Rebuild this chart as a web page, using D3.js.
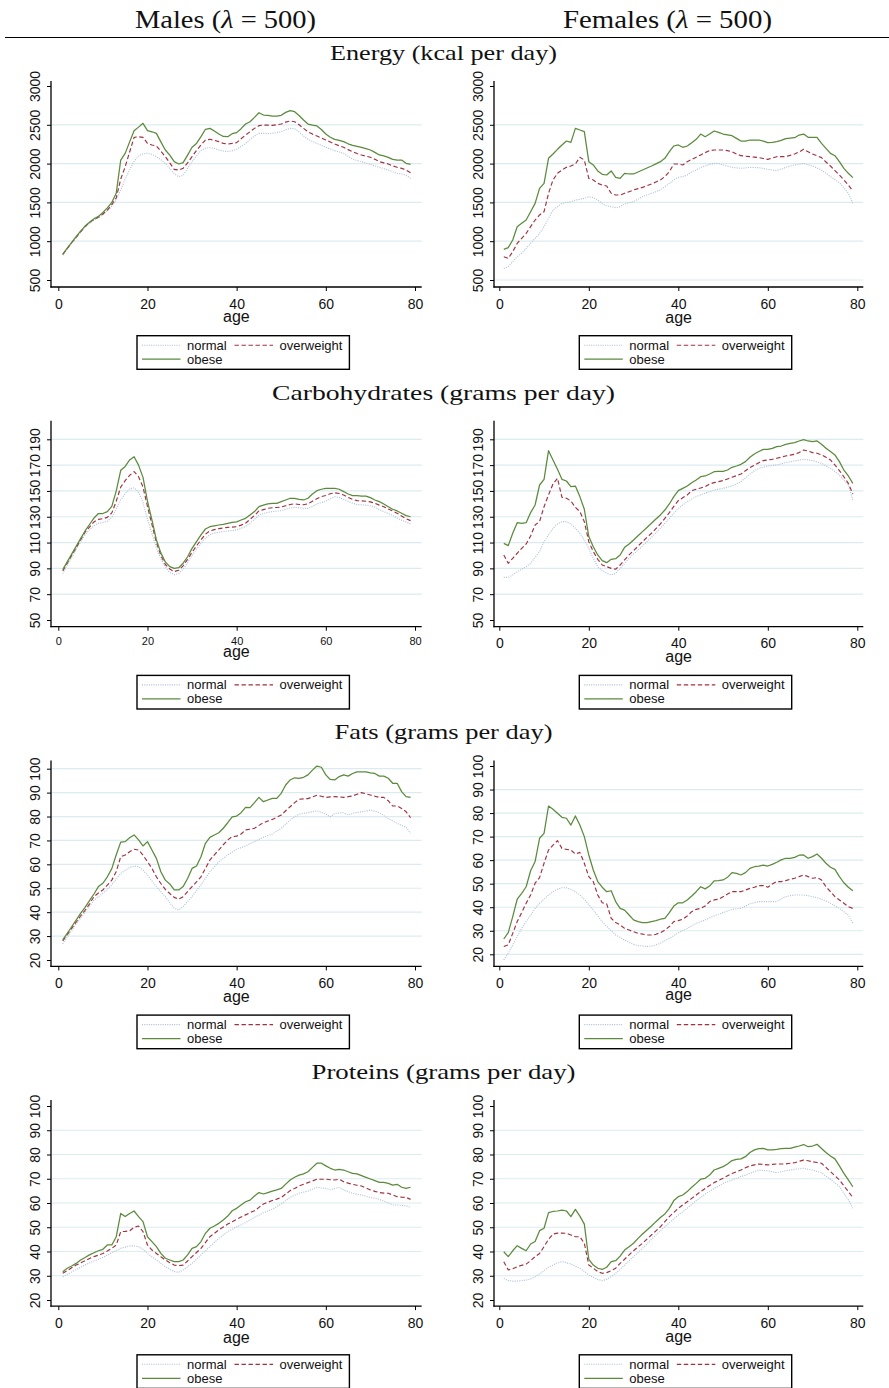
<!DOCTYPE html>
<meta charset="utf-8">
<script src="https://cdn.jsdelivr.net/npm/d3@7"></script>
<style>
body { margin: 0; background: #fff; }
.tick text { font-family: "Liberation Sans", Arial, sans-serif; fill: #111; }
</style>
<body>
<script>

// ---- data ----
var ages = [1,2,3,4,5,6,7,8,9,10,11,12,13,14,15,16,17,18,19,20,21,22,23,24,25,26,27,28,29,30,31,32,33,34,35,36,37,38,39,40,41,42,43,44,45,46,47,48,49,50,51,52,53,54,55,56,57,58,59,60,61,62,63,64,65,66,67,68,69,70,71,72,73,74,75,76,77,78,79];
var ageTicks = [0, 20, 40, 60, 80];
var seriesNames = ["normal", "overweight", "obese"];
var columnTitles = ["Males", "Females"];
var rowTitles = ["Energy (kcal per day)", "Carbohydrates (grams per day)", "Fats (grams per day)", "Proteins (grams per day)"];

var energyTicks = [500, 1000, 1500, 2000, 2500, 3000];
var carbTicks = [50, 70, 90, 110, 130, 150, 170, 190];
var fatTicks = [20, 30, 40, 50, 60, 70, 80, 90, 100];
var protTicks = [20, 30, 40, 50, 60, 70, 80, 90, 100];

var energyMaleNormal = [820,900,975,1045,1115,1180,1230,1270,1300,1340,1390,1450,1530,1660,1800,1920,2030,2100,2125,2135,2120,2090,2050,2003,1940,1870,1832,1850,1940,2025,2100,2170,2197,2205,2195,2175,2162,2155,2165,2184,2220,2261,2310,2356,2390,2390,2385,2390,2400,2411,2435,2454,2450,2410,2356,2313,2285,2261,2235,2210,2190,2167,2150,2132,2095,2059,2040,2025,2005,1990,1970,1952,1935,1917,1895,1875,1866,1853,1810];
var energyMaleOverweight = [830,905,980,1050,1120,1190,1240,1280,1310,1350,1400,1470,1560,1800,1960,2150,2338,2345,2338,2261,2240,2227,2160,2090,2010,1926,1917,1939,2010,2090,2170,2240,2304,2313,2300,2283,2261,2252,2260,2270,2320,2368,2410,2454,2489,2497,2495,2493,2500,2510,2535,2549,2540,2500,2454,2411,2380,2356,2330,2304,2278,2252,2230,2210,2180,2154,2130,2111,2095,2081,2055,2025,2010,1995,1970,1952,1939,1917,1883];
var energyMaleObese = [830,910,985,1060,1130,1195,1245,1290,1320,1370,1430,1500,1620,2046,2132,2280,2424,2470,2519,2424,2410,2390,2280,2175,2110,2025,1995,2012,2110,2210,2260,2347,2442,2454,2420,2381,2350,2347,2385,2399,2450,2510,2540,2596,2656,2626,2620,2613,2612,2622,2660,2682,2669,2620,2562,2510,2495,2485,2440,2381,2340,2313,2300,2283,2255,2235,2222,2210,2192,2175,2145,2111,2100,2081,2055,2046,2046,2003,1990];

var energyFemaleNormal = [650,672,736,800,844,908,972,1037,1101,1187,1295,1402,1445,1488,1497,1510,1531,1540,1552,1574,1561,1531,1488,1454,1445,1432,1445,1479,1497,1510,1542,1574,1595,1617,1638,1660,1703,1746,1789,1823,1832,1853,1896,1917,1952,1969,1990,2003,2003,1982,1967,1952,1945,1939,1945,1952,1950,1948,1937,1926,1917,1909,1930,1952,1967,1982,1993,2003,1986,1969,1943,1917,1875,1832,1793,1754,1690,1617,1488];
var energyFemaleOverweight = [800,779,865,972,1037,1101,1187,1273,1338,1380,1617,1789,1875,1917,1952,1969,1995,2081,2046,1810,1789,1746,1724,1711,1617,1595,1595,1617,1638,1660,1677,1694,1715,1737,1763,1789,1832,1896,1995,1995,1982,2025,2055,2081,2111,2141,2167,2175,2175,2175,2167,2154,2124,2102,2095,2089,2083,2077,2066,2055,2072,2089,2089,2089,2106,2124,2150,2184,2154,2124,2100,2077,2020,1969,1910,1853,1790,1724,1647];
var energyFemaleObese = [895,917,1015,1187,1230,1273,1380,1488,1681,1746,2068,2124,2184,2240,2291,2274,2454,2433,2411,2025,1982,1905,1862,1853,1905,1823,1810,1875,1866,1866,1892,1917,1943,1969,1997,2025,2068,2154,2227,2240,2210,2227,2270,2313,2381,2347,2381,2420,2403,2381,2370,2360,2325,2291,2291,2304,2304,2304,2290,2270,2275,2283,2300,2321,2328,2334,2368,2381,2338,2338,2338,2261,2197,2132,2102,2025,1939,1875,1819];

var carbMaleNormal = [86,92,98.5,104.5,110.5,116,120,123,125,125.5,126.5,129.5,136,143,148,151.5,152.5,149,141,128,117,106,97,91,87,85,86,89.5,94.5,100,105,109.5,113.5,116,117.3,118,118.5,119,119.3,119.8,121,122.5,125,128,131.4,132.5,133.5,134,134.3,134.7,135.8,136.8,137.3,137,136.5,136.5,138,140,141,142,144,145.5,145,143.5,142,140.5,139.5,139.2,139,138.5,137.5,135.5,134,132.5,131,129,127.3,126,124.3];
var carbMaleOverweight = [88,94,100,106,112,118,122,126,128,128.5,129.5,133,142,153,158,162,165,161,153,138,124,110,100,93,89.5,87.5,88.5,92,97,102.5,107.5,112,116.5,119,120,120.8,121.3,121.8,122,122.3,123.5,125,128,131,134.5,135.5,136.5,137,137.2,137.5,138.5,139.5,140,139.5,139.3,140,142,144,145.6,146.5,147.8,148.5,148,146.8,145,143.5,142.5,142.3,142,141.5,140.5,139,137.8,136,134.5,132.7,130.5,128.5,127];
var carbMaleObese = [89,95,101,107,113,119,124,129,132.5,132.5,134,138,150,166,169,174,176.5,170,160.5,142,127.5,112,102,95,91.3,90,90.5,94,99,105.5,110.7,116,120.5,122.3,123,123.6,124.1,124.9,125.7,126,127.5,128.8,131.4,134,137.8,139,139.9,140.4,140.4,141.7,143,144.3,144.3,143.5,143,144.3,147.6,150.2,151.3,152,152,152,151.3,149.5,147.6,146.4,146.4,146,146,144.8,143,141.7,139.9,137.8,135.8,134.5,132.7,130.9,130];

var carbFemaleNormal = [83,83,84.9,87.5,89.3,91.3,93.9,98.6,103,110.7,115.9,121,124.4,126.2,126.2,124.4,121,117.2,112,105.5,97.8,91.3,88.2,86.2,84.9,86.2,90,93.9,97.8,101.1,104.2,107.3,110.7,114.1,117.5,121,125,128.8,132.7,136.5,139.2,141.7,143.7,145.6,147,148.2,149.5,150.7,151.3,152,152.9,153.8,155.5,157.2,160,163.1,165.5,167.5,168.5,169.3,169.7,170.1,171,171.9,172.5,173.2,173.9,174.5,174,173.5,172.5,171.4,169.5,167.5,165,162.3,158.5,154.6,143];
var carbFemaleOverweight = [100.4,93.9,97.8,101.7,105.5,108.9,115.1,123.6,126.2,137.8,146.9,155.4,159.8,145.1,144.3,142.2,137.3,134,126.2,110.7,103,97,92.6,91.3,90,89.3,92.6,96.5,100.4,103.7,107.2,110.7,114,117.2,120.8,124.4,128.8,133.2,138,142.5,144.7,146.9,150.2,151.3,152.3,153.3,155.4,156.4,157.2,158,159.3,160.6,161.8,163.1,165.6,168.1,170,171.9,173.5,174,174.5,175.3,176.2,177.1,177.7,178.4,179.7,181.7,180.9,179.7,179.2,177.9,176,174,170.1,165.7,161,155.9,147.6];
var carbFemaleObese = [109.4,107.6,117.2,125.4,124.9,125.4,133.2,139.1,154.6,159,181.2,174,166.8,159,157.7,153.3,153.8,145.6,135.8,114.6,106.8,100.4,96,94.4,97,97.5,100.4,106.3,108.9,112,115.3,118.5,121.7,124.9,128.2,131.4,135.2,139.9,145.6,150.2,152,153.8,156.4,158.5,161,161.6,163.1,164.9,165.2,165.2,166.2,168.3,169.3,170.6,172.7,176.1,178.6,180.5,182.2,182.2,183,184.3,184.8,186.1,186.9,187.4,188.7,189.7,188.7,188.2,188.7,186.1,183,180.5,177.9,172.7,166.2,161.6,155.9];

var fatMaleNormal = [26.7,29.5,32.3,35,37.5,40,42.5,45,46.5,47.9,49.6,51.4,53.8,56.2,57.5,58.7,59.3,59,57.6,55.5,53.1,50.7,48.6,46.5,44,41.6,40.9,42.3,44.4,46.5,49,51.4,54.2,56.9,59,61.1,62.5,63.9,65.1,66.3,67,67.7,68.6,69.5,70.4,71.3,72,72.7,73.9,75.1,76.8,78.5,79.8,81,81.3,81.6,82,82.4,81.7,81,79.9,81.3,81.5,81.6,80.6,81.3,81.7,82,82.3,82.7,82.2,81.6,80.4,79.2,78.2,77.1,76.3,75.5,73];
var fatMaleOverweight = [28,30.6,33.2,35.8,38.4,40.8,43.4,46.5,48,49.3,51.3,53.4,57,63.2,63.9,65.3,66.3,66,63.9,61.1,58.3,54.8,52,49.5,47.8,46.2,45.4,46.5,48.6,50.7,52.7,54.8,58.3,61.8,64,66,68.2,70.2,71.6,71.8,72.7,74.4,74.7,75.1,76.3,77.4,78.1,78.8,79.7,80.6,82.4,84.1,85.8,87.2,87.4,87.5,88.2,88.9,88.5,88,88.2,88.3,88.2,88,88.3,88.6,89.3,90,89.5,89,88.5,88,88,86.6,84.4,84.4,83.4,82,79.5];
var fatMaleObese = [28.4,31.1,33.9,36.7,39.5,42,44.8,47.6,50.7,52.1,54.8,58.2,64,69.3,69.5,71.1,72.3,70.2,67.7,69.5,66,62.5,56.9,53.4,51.8,49.3,49.3,50.7,54.1,58.3,59.3,63.2,68.8,71.3,72.3,73.2,75.1,77.4,79.9,80.2,81.6,83.8,83.7,85.8,88,86.2,86.9,87.6,87.6,89.7,93.2,95.3,96.2,96,96.4,97.4,99.4,101.1,100.6,97.4,95.5,95.3,96.7,97.4,96.9,98,98.7,98.7,98.7,98.3,98,96.9,96.9,96,93.9,93.9,90.4,88.3,88];

var fatFemaleNormal = [17.6,20.4,24,27.5,31,33.9,36.7,39.5,41.7,43.4,45.2,46.6,47.6,48.3,48.3,47.6,46.6,45.2,43.4,41,38.8,36.3,33.9,31.8,30.1,28.2,27.2,26.1,25.1,24.2,23.7,23.5,23.3,23.5,24,24.7,25.8,26.8,27.9,29.2,30.1,31,32.1,33.2,33.9,34.6,35.5,36.3,37,37.7,38.4,39.1,39.3,39.5,40.5,41.4,41.9,42.4,42.4,42.4,42.4,42.4,43.5,44.5,44.9,45.2,45.2,45.2,44.9,44.5,44,43.4,42.6,41.7,40.6,39.5,38.1,36.7,33.2];
var fatFemaleOverweight = [23.3,24,28.9,33.9,37.7,41.7,45.2,50.2,52.6,58.7,64.3,66.4,68.3,65,64.6,64.3,62.6,63.3,58.7,53,50.9,45.2,41.9,41.4,35.3,33.5,32.5,31,30.3,29.6,28.9,28.6,28.2,28.2,28.5,29.2,30.3,31.8,33.9,34.3,34.9,36.3,38.1,39.1,39.5,40.5,42.4,43.1,43.4,44.5,45.6,46.6,46.6,46.6,47.3,48,48.5,49.2,49.2,48.5,49.9,50.9,50.9,51.3,51.9,52.3,53,53.7,53,52.3,52.6,51.6,48.7,46.6,44.5,43.1,41.7,40.2,39.5];
var fatFemaleObese = [26.5,29.2,36,43.4,45.9,48.7,55.5,59.4,69.3,71.4,83,81.6,79.9,78.2,77.8,74.9,78.8,74.9,70,62.2,55.8,50.9,48.5,46.6,47,42.4,39.5,38.8,36.7,34.6,33.9,33.5,33.5,33.9,34.3,34.9,35.3,37.7,40.5,41.9,41.9,43.1,44.8,46.6,48.7,47.8,49,51.2,51.3,51.6,52.7,54.7,54.4,53.7,54.7,56.5,57.2,57.5,57.9,57.5,58.2,59.1,60.1,60.8,60.8,61.2,62.1,62.2,60.8,61.5,62.6,60.8,58.7,57,56.1,53,50.4,48.5,47];

var protMaleNormal = [29.6,30.6,31.6,32.6,33.5,34.4,35.3,36.1,36.8,37.6,38.5,39.5,40.4,41.3,41.8,42.3,42.3,42,40.9,39.2,37.8,36.5,35.1,33.7,32.7,31.7,31.4,32.4,33.7,35.1,36.8,38.6,40.3,42,43.7,45.4,46.8,48.2,49.2,50.2,51,51.9,53,54.1,55,56,56.7,57.4,58.5,59.6,61,62.3,63.2,64,64.5,64.9,65.7,66.5,66.2,66,65.4,66,66.5,65.4,64.7,64,63.6,63.3,62.8,62.3,61.9,61.5,60.8,60.1,59.2,59.2,59,58.8,58.2];
var protMaleOverweight = [31,32.1,33.3,34.4,35.3,36.2,37.1,37.9,38.5,39.2,40.2,41.3,42.7,48.2,48.3,48.5,50,50.5,48.2,42.7,40.6,39.2,37.8,36.5,35.4,34.4,34.2,34.4,36.1,37.9,39.6,41.3,43.7,46.1,47.5,48.9,50.1,51.3,52.3,53.3,54.2,55.1,56,56.8,58.2,59.6,60.3,61,61.6,62.3,63.7,65.1,66,67,67.7,68.4,69.1,69.8,69.8,69.8,69.6,69.5,69.8,68.8,68.2,67.7,67.3,67,66.2,65.4,64.8,64.3,64.1,64,63.3,62.6,62.4,62.3,61.5];
var protMaleObese = [31.7,33.1,34,35.1,36.5,37.5,38.6,39.5,40.3,40.9,42.7,42.7,46.1,55.7,54.4,55.7,56.7,54.4,52.3,46.1,44.1,42,39.2,37.2,36.5,35.8,35.8,36.5,38.6,41.3,42,44.1,47.5,49.6,50.5,51.6,53,54.6,56.8,57.8,59.2,60.5,61.2,62.9,64.3,63.7,64.3,64.9,65.4,66,67.8,69.5,70.6,71.5,72,72.9,74.7,76.4,76.4,75.3,74.3,73.6,73.9,73.6,72.9,72.2,72,71.3,70.6,69.9,69.2,68.5,68.5,68.1,67.4,67.7,66.5,66,66.5];

var protFemaleNormal = [28.9,28,27.8,27.8,28,28.2,28.7,29.6,30.7,32.1,33.5,34.4,35.4,35.8,35.4,34.8,34,33.1,31.7,30.3,29.3,28.5,28,28.5,29.6,31,32.6,34.4,36.1,37.9,39.6,41.3,43.1,45,46.8,48.6,50.2,51.9,53.5,55.1,56.4,57.8,59.4,61,62.3,63.7,64.8,66,67,68.1,68.8,69.5,70.2,70.9,71.5,72.2,72.9,73.6,73.4,73.3,72.9,72.5,72.9,73.3,73.6,73.9,74.1,74.3,73.9,73.6,73,72.5,71.1,69.8,68.3,66.8,64,61.3,57.8];
var protFemaleOverweight = [35.8,32.4,32.9,33.7,34.3,34.8,36.2,37.9,39.2,42,45,47.2,47.6,47.6,47.5,46.8,46.1,46.1,43.4,34.4,33.1,31.7,31,31.3,32.1,33.1,35.1,36.8,38.6,40.3,41.9,43.4,45.1,46.8,48.5,50.2,52.3,54.4,56.1,57.8,59.2,60.5,61.9,63.3,64.7,66,67.2,68.4,69.3,70.2,71.2,72.2,72.9,73.6,74.5,75.3,75.7,76.1,75.9,75.7,75.9,76.1,76.1,76.1,76.4,76.6,77.2,77.7,77.4,77,76.7,76.4,74.7,72.9,71.2,69.5,67.1,64.7,62.3];
var protFemaleObese = [39.9,37.9,40.3,42.4,41.3,40.3,43.1,44.1,48.6,49.6,56,56.5,56.7,57.1,56.7,54.4,57.4,54.6,51.3,36.8,34.4,33.1,32.6,33.5,35.8,36.2,38.1,40.6,42,43.4,45.4,47.2,48.9,50.5,52.3,54,55.5,57.8,61,62.6,63.3,64.7,66.5,68.1,69.8,70.2,71.5,73.6,74.3,75,76.1,77.5,78,78.2,79.1,80.8,81.9,82.4,82.5,81.9,81.9,82.1,82.4,82.5,82.5,83,83.5,84.1,83.2,83.5,84.2,82.5,80.8,79.4,78.2,75.3,72.2,69.5,66.7];

// ---- layout ----
var width = 889, height = 1388;
var rowStep = 339.7;

var cols = [
  {axisX: 51, x0: 58.3, x80: 415, right: 421.7, legendX: 137, head: 225.5, headLen: 181},
  {axisX: 494, x0: 499.3, x80: 857.3, right: 863.3, legendX: 579.3, head: 667.5, headLen: 209}
];

var styles = [
  {color: "#a9bdd6", dash: "1,1.3", width: 1.1},
  {color: "#a2303f", dash: "4.4,2.6", width: 1.15},
  {color: "#5b8a3c", dash: null, width: 1.25}
];

var panels = [
  {row: 0, col: 0, ticks: energyTicks, series: [energyMaleNormal, energyMaleOverweight, energyMaleObese], yPx: [280, 86], grid: [1000,1500,2000,2500], xFont: 14, ageDy: 34.5},
  {row: 0, col: 1, ticks: energyTicks, series: [energyFemaleNormal, energyFemaleOverweight, energyFemaleObese], yPx: [280, 86], grid: [500,1000,1500,2000,2500], xFont: 14, ageDy: 35.5},
  {row: 1, col: 0, ticks: carbTicks, series: [carbMaleNormal, carbMaleOverweight, carbMaleObese], yPx: [620, 439.3], grid: [70,90,110,130,150,170,190], xFont: 11, ageDy: 30.5},
  {row: 1, col: 1, ticks: carbTicks, series: [carbFemaleNormal, carbFemaleOverweight, carbFemaleObese], yPx: [620, 439.3], grid: [70,90,110,130,150,170,190], xFont: 14, ageDy: 35.5},
  {row: 2, col: 0, ticks: fatTicks, series: [fatMaleNormal, fatMaleOverweight, fatMaleObese], yPx: [960, 768.7], grid: [30,40,50,60,70,80,90,100], xFont: 14, ageDy: 35.5},
  {row: 2, col: 1, ticks: fatTicks, series: [fatFemaleNormal, fatFemaleOverweight, fatFemaleObese], yPx: [954.3, 766], grid: [20,30,40,50,60,70,80,90], xFont: 14, ageDy: 34},
  {row: 3, col: 0, ticks: protTicks, series: [protMaleNormal, protMaleOverweight, protMaleObese], yPx: [1300, 1106], grid: [30,40,50,60,70,80,90], xFont: 14, ageDy: 37},
  {row: 3, col: 1, ticks: protTicks, series: [protFemaleNormal, protFemaleOverweight, protFemaleObese], yPx: [1300, 1106], grid: [30,40,50,60,70,80,90], xFont: 14, ageDy: 35.5}
];

var svg = d3.select("body").append("svg")
    .attr("width", width)
    .attr("height", height);

svg.append("rect").attr("width", width).attr("height", height).attr("fill", "#fff");

// column headings
cols.forEach(function(c, i) {
  var t = svg.append("text")
      .attr("x", c.head)
      .attr("y", 27.5)
      .attr("text-anchor", "middle")
      .attr("textLength", c.headLen)
      .attr("lengthAdjust", "spacingAndGlyphs")
      .style("font-family", "'Liberation Serif', serif")
      .style("font-size", "26px")
      .style("fill", "#111");
  t.append("tspan").text(columnTitles[i] + " (");
  t.append("tspan").style("font-style", "italic").text("λ");
  t.append("tspan").text(" = 500)");
});

svg.append("line")
    .attr("x1", 5).attr("x2", width)
    .attr("y1", 37.5).attr("y2", 37.5)
    .attr("stroke", "#000").attr("stroke-width", 1.2);

// row titles
var titleLens = [227, 343, 218, 264];
rowTitles.forEach(function(t, i) {
  svg.append("text")
      .attr("x", 443.5)
      .attr("y", 60 + rowStep * i)
      .attr("text-anchor", "middle")
      .attr("textLength", titleLens[i])
      .attr("lengthAdjust", "spacingAndGlyphs")
      .style("font-family", "'Liberation Serif', serif")
      .style("font-size", "21.5px")
      .style("fill", "#111")
      .text(t);
});

panels.forEach(drawPanel);

function drawPanel(p) {
  var c = cols[p.col];
  var top = 81 + rowStep * p.row,
      axisY = 287 + rowStep * p.row;

  var x = d3.scaleLinear().domain([0, 80]).range([c.x0, c.x80]);
  var y = d3.scaleLinear()
      .domain([p.ticks[0], p.ticks[p.ticks.length - 1]])
      .range(p.yPx);

  var g = svg.append("g");

  // grid lines
  g.selectAll("line.grid")
    .data(p.grid)
    .enter().append("line")
      .attr("class", "grid")
      .attr("x1", c.axisX).attr("x2", c.right)
      .attr("y1", function(d) { return y(d); })
      .attr("y2", function(d) { return y(d); })
      .attr("stroke", "#dbebf0")
      .attr("stroke-width", 1.2);

  // y axis
  var ya = g.append("g")
      .attr("transform", "translate(" + c.axisX + ",0)")
      .call(d3.axisLeft(y).tickValues(p.ticks).tickSize(4).tickFormat(d3.format("d")));
  ya.select(".domain").remove();
  ya.selectAll(".tick line").attr("stroke", "#000").attr("stroke-width", 1);
  ya.selectAll(".tick text")
      .attr("transform", "rotate(-90)")
      .attr("x", 0)
      .attr("y", -11.5)
      .attr("dy", 0)
      .attr("text-anchor", "middle")
      .style("font-size", "14px");

  // x axis
  var xa = g.append("g")
      .attr("transform", "translate(0," + axisY + ")")
      .call(d3.axisBottom(x).tickValues(ageTicks).tickSize(4));
  xa.select(".domain").remove();
  xa.selectAll(".tick line").attr("stroke", "#000").attr("stroke-width", 1);
  xa.selectAll(".tick text")
      .attr("y", p.xFont > 12 ? 21.5 : 18.3)
      .attr("dy", 0)
      .style("font-size", p.xFont + "px");

  // axis lines
  g.append("line")
      .attr("x1", c.axisX).attr("x2", c.axisX)
      .attr("y1", top).attr("y2", axisY + 0.6)
      .attr("stroke", "#000").attr("stroke-width", 1.3);
  g.append("line")
      .attr("x1", c.axisX - 0.6).attr("x2", c.right)
      .attr("y1", axisY).attr("y2", axisY)
      .attr("stroke", "#000").attr("stroke-width", 1.3);

  // series
  var line = d3.line()
      .x(function(d, i) { return x(ages[i]); })
      .y(function(d) { return y(d); });

  p.series.forEach(function(s, k) {
    g.append("path")
        .datum(s)
        .attr("d", line)
        .attr("fill", "none")
        .attr("stroke", styles[k].color)
        .attr("stroke-width", styles[k].width)
        .attr("stroke-dasharray", styles[k].dash)
        .attr("stroke-linejoin", "round");
  });

  // x axis title
  g.append("text")
      .attr("x", (c.axisX + c.right) / 2)
      .attr("y", axisY + p.ageDy)
      .attr("text-anchor", "middle")
      .style("font-family", "'Liberation Sans', Arial, sans-serif")
      .style("font-size", "16px")
      .style("fill", "#111")
      .text("age");

  // legend
  var lt = 335.7 + rowStep * p.row;
  var lg = g.append("g").attr("transform", "translate(" + c.legendX + "," + lt + ")");
  lg.append("rect")
      .attr("x", 0).attr("y", 0)
      .attr("width", 212.4).attr("height", 33.6)
      .attr("fill", "#fff")
      .attr("stroke", "#000").attr("stroke-width", 1.4);
  var items = [
    {k: 0, x: 5, y: 9.5},
    {k: 1, x: 97.5, y: 9.5},
    {k: 2, x: 5, y: 23.5}
  ];
  items.forEach(function(it) {
    var st = styles[it.k];
    lg.append("line")
        .attr("x1", it.x).attr("x2", it.x + 38.5)
        .attr("y1", it.y).attr("y2", it.y)
        .attr("stroke", st.color)
        .attr("stroke-width", st.width)
        .attr("stroke-dasharray", st.dash);
    lg.append("text")
        .attr("x", it.x + 45)
        .attr("y", it.y + 4.6)
        .style("font-family", "'Liberation Sans', Arial, sans-serif")
        .style("font-size", "13px")
        .style("fill", "#111")
        .text(seriesNames[it.k]);
  });
}

</script>
</body>
